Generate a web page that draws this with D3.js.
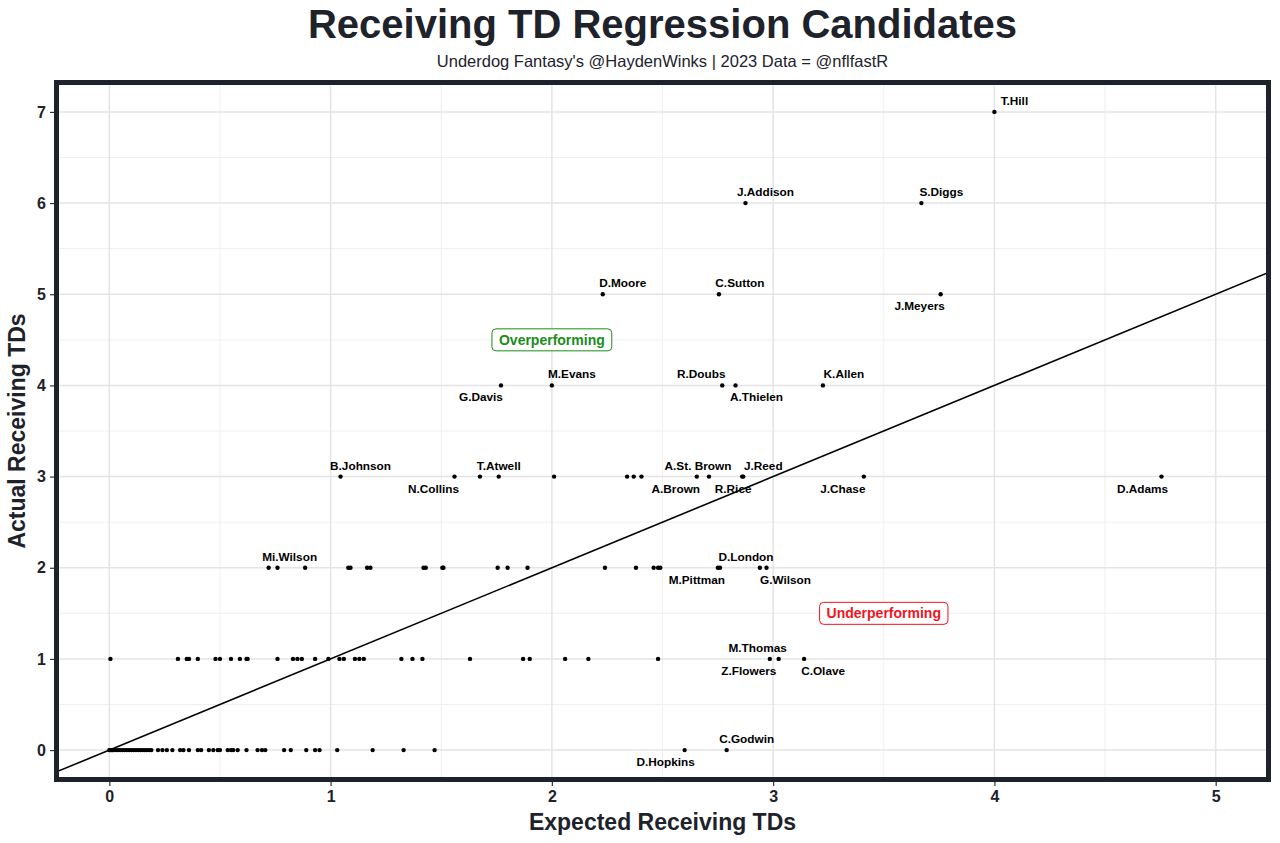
<!DOCTYPE html>
<html>
<head>
<meta charset="utf-8">
<script src="https://cdn.jsdelivr.net/npm/d3@7"></script>
<style>
  html, body { margin: 0; padding: 0; background: #ffffff; }
  svg { display: block; }
  text { font-family: "Liberation Sans", Arial, Helvetica, sans-serif; }
</style>
</head>
<body>
<svg id="chart" width="1280" height="843"></svg>
<script>
// ---------------- DATA ----------------
// labelled players
const labeledNames = [
  "D.Hopkins","C.Godwin",
  "Z.Flowers","M.Thomas","C.Olave",
  "Mi.Wilson","M.Pittman","D.London","G.Wilson",
  "B.Johnson","N.Collins","T.Atwell","A.Brown","A.St. Brown","R.Rice","J.Reed","J.Chase","D.Adams",
  "G.Davis","M.Evans","R.Doubs","A.Thielen","K.Allen",
  "D.Moore","C.Sutton","J.Meyers",
  "J.Addison","S.Diggs",
  "T.Hill"
];
const labeledExpected = [
  2.60, 2.79,
  2.985, 3.025, 3.14,
  0.72, 2.75, 2.76, 2.97,
  1.045, 1.56, 1.76, 2.655, 2.71, 2.86, 2.865, 3.41, 4.755,
  1.77, 2.00, 2.77, 2.83, 3.225,
  2.23, 2.755, 3.757,
  2.875, 3.67,
  4.00
];
const labeledActual = [
  0, 0,
  1, 1, 1,
  2, 2, 2, 2,
  3, 3, 3, 3, 3, 3, 3, 3, 3,
  4, 4, 4, 4, 4,
  5, 5, 5,
  6, 6,
  7
];
// unlabelled players
const otherExpected = [
  // actual = 0
  0.00,0.005,0.01,0.015,0.02,0.03,0.04,0.05,0.06,0.07,0.08,0.09,0.10,0.11,0.12,0.13,0.14,0.15,0.16,0.17,0.18,0.19,
  0.22,0.24,0.26,0.285,0.32,0.335,0.36,0.40,0.415,0.45,0.47,0.49,0.50,0.535,0.55,0.56,0.58,0.62,0.67,0.69,0.705,0.79,0.82,0.89,0.93,0.95,1.03,1.19,1.33,1.47,
  // actual = 1
  0.005,0.31,0.35,0.36,0.40,0.48,0.50,0.55,0.59,0.62,0.625,0.76,0.83,0.85,0.87,0.93,0.99,1.04,1.06,1.11,1.13,1.15,1.32,1.37,1.415,1.63,1.87,1.90,2.06,2.165,2.48,
  // actual = 2
  0.76,0.885,1.08,1.09,1.165,1.18,1.42,1.43,1.505,1.51,1.755,1.80,1.89,2.24,2.38,2.46,2.48,2.49,2.94,
  // actual = 3
  1.675,2.01,2.34,2.37,2.405
];
const otherActual = [
  0,0,0,0,0,0,0,0,0,0,0,0,0,0,0,0,0,0,0,0,0,0,
  0,0,0,0,0,0,0,0,0,0,0,0,0,0,0,0,0,0,0,0,0,0,0,0,0,0,0,0,0,0,
  1,1,1,1,1,1,1,1,1,1,1,1,1,1,1,1,1,1,1,1,1,1,1,1,1,1,1,1,1,1,1,
  2,2,2,2,2,2,2,2,2,2,2,2,2,2,2,2,2,2,2,
  3,3,3,3,3
];
const xTicks = [0, 1, 2, 3, 4, 5];
const yTicks = [0, 1, 2, 3, 4, 5, 6, 7];
const xMinor = [0.5, 1.5, 2.5, 3.5, 4.5];
const yMinor = [0.5, 1.5, 2.5, 3.5, 4.5, 5.5, 6.5];
const annotationTexts = ["Overperforming", "Underperforming"];
const annotationX = [2.0, 3.5];
const annotationY = [4.5, 1.5];
const annotationColors = ["#1a8c1a", "#f0141e"];

// label placement (layout only): horizontal offset in px and side
const labelPlacement = {
  "T.Hill": [20, "up"], "J.Addison": [20, "up"], "S.Diggs": [20, "up"],
  "D.Moore": [20, "up"], "C.Sutton": [21, "up"], "J.Meyers": [-21, "down"],
  "G.Davis": [-20, "down"], "M.Evans": [20, "up"], "R.Doubs": [-21, "up"],
  "A.Thielen": [21, "down"], "K.Allen": [21, "up"], "B.Johnson": [20, "up"],
  "N.Collins": [-21, "down"], "T.Atwell": [0, "up"], "A.St. Brown": [-11, "up"],
  "A.Brown": [-21, "down"], "R.Rice": [-9, "down"], "J.Reed": [20, "up"],
  "J.Chase": [-21, "down"], "D.Adams": [-19, "down"], "Mi.Wilson": [21, "up"],
  "D.London": [26, "up"], "M.Pittman": [-21, "down"], "G.Wilson": [19, "down"],
  "M.Thomas": [-21, "up"], "Z.Flowers": [-21, "down"], "C.Olave": [19, "down"],
  "D.Hopkins": [-19, "down"], "C.Godwin": [20, "up"]
};

// ---------------- CHART ----------------
const svg = d3.select("#chart");
const dark = "#1e222b";
const panel = { left: 54, right: 1271, top: 80, bottom: 782 };

const x = d3.scaleLinear().domain([-0.25, 5.25]).range([panel.left, panel.right]);
const y = d3.scaleLinear().domain([-0.35, 7.35]).range([panel.bottom, panel.top]);

svg.append("defs").append("clipPath").attr("id", "clip")
  .append("rect")
  .attr("x", panel.left).attr("y", panel.top)
  .attr("width", panel.right - panel.left).attr("height", panel.bottom - panel.top);

const g = svg.append("g");

// minor grid
g.selectAll(".xminor").data(xMinor).join("line")
  .attr("x1", d => x(d)).attr("x2", d => x(d))
  .attr("y1", panel.top).attr("y2", panel.bottom)
  .attr("stroke", "#ededed").attr("stroke-width", 0.9);
g.selectAll(".yminor").data(yMinor).join("line")
  .attr("y1", d => y(d)).attr("y2", d => y(d))
  .attr("x1", panel.left).attr("x2", panel.right)
  .attr("stroke", "#ededed").attr("stroke-width", 0.9);
// major grid
g.selectAll(".xmajor").data(xTicks).join("line")
  .attr("x1", d => x(d)).attr("x2", d => x(d))
  .attr("y1", panel.top).attr("y2", panel.bottom)
  .attr("stroke", "#e4e4e4").attr("stroke-width", 1.5);
g.selectAll(".ymajor").data(yTicks).join("line")
  .attr("y1", d => y(d)).attr("y2", d => y(d))
  .attr("x1", panel.left).attr("x2", panel.right)
  .attr("stroke", "#e4e4e4").attr("stroke-width", 1.5);

// y = x reference line
const dom = x.domain();
g.append("line")
  .attr("clip-path", "url(#clip)")
  .attr("x1", x(dom[0])).attr("y1", y(dom[0]))
  .attr("x2", x(dom[1])).attr("y2", y(dom[1]))
  .attr("stroke", "#000").attr("stroke-width", 1.6);

// points
const others = otherExpected.map((v, i) => ({ xv: v, yv: otherActual[i] }));
const labeled = labeledExpected.map((v, i) => ({ name: labeledNames[i], xv: v, yv: labeledActual[i] }));
g.selectAll(".pt").data(others.concat(labeled)).join("circle")
  .attr("cx", d => x(d.xv)).attr("cy", d => y(d.yv))
  .attr("r", 2.2).attr("fill", "#000");

// labels
g.selectAll(".lbl").data(labeled).join("text")
  .attr("x", d => x(d.xv) + labelPlacement[d.name][0])
  .attr("y", d => y(d.yv) + (labelPlacement[d.name][1] === "down" ? 16 : -7))
  .attr("text-anchor", "middle")
  .attr("font-size", "11.8px").attr("font-weight", "bold").attr("fill", "#000")
  .text(d => d.name);

// annotations
annotationTexts.forEach((t, i) => {
  const ag = g.append("g");
  const txt = ag.append("text")
    .attr("x", x(annotationX[i])).attr("y", y(annotationY[i]) + 5)
    .attr("text-anchor", "middle").attr("font-size", "14px").attr("font-weight", "bold")
    .attr("fill", annotationColors[i]).text(t);
  const bb = txt.node().getBBox();
  ag.insert("rect", "text")
    .attr("x", bb.x - 7).attr("y", y(annotationY[i]) - 11)
    .attr("width", bb.width + 14).attr("height", 22)
    .attr("rx", 4).attr("ry", 4)
    .attr("fill", "#fff").attr("stroke", annotationColors[i]).attr("stroke-width", 1);
});

// panel border (drawn inside)
svg.append("rect")
  .attr("x", panel.left + 2.5).attr("y", panel.top + 2.5)
  .attr("width", panel.right - panel.left - 5).attr("height", panel.bottom - panel.top - 5)
  .attr("fill", "none").attr("stroke", dark).attr("stroke-width", 5);

// axes
const xAxis = svg.append("g").attr("transform", `translate(0,${panel.bottom})`)
  .call(d3.axisBottom(x).tickValues(xTicks).tickSize(4).tickPadding(5).tickFormat(d3.format("d")));
const yAxis = svg.append("g").attr("transform", `translate(${panel.left},0)`)
  .call(d3.axisLeft(y).tickValues(yTicks).tickSize(4).tickPadding(4).tickFormat(d3.format("d")));
[xAxis, yAxis].forEach(a => {
  a.select(".domain").remove();
  a.selectAll(".tick line").attr("stroke", "#333").attr("stroke-width", 1.2);
  a.selectAll(".tick text")
    .attr("font-family", "'Liberation Sans', Arial, sans-serif")
    .attr("font-size", "16px").attr("font-weight", "bold").attr("fill", dark);
});

// titles
const cx = (panel.left + panel.right) / 2;
svg.append("text").attr("x", cx).attr("y", 38)
  .attr("text-anchor", "middle").attr("font-size", "40px").attr("font-weight", "bold")
  .attr("fill", dark).text("Receiving TD Regression Candidates");
svg.append("text").attr("x", cx).attr("y", 67)
  .attr("text-anchor", "middle").attr("font-size", "16.5px")
  .attr("fill", dark).text("Underdog Fantasy's @HaydenWinks | 2023 Data = @nflfastR");
svg.append("text").attr("x", cx).attr("y", 830)
  .attr("text-anchor", "middle").attr("font-size", "23px").attr("font-weight", "bold")
  .attr("fill", dark).text("Expected Receiving TDs");
svg.append("text")
  .attr("transform", `translate(25,${(panel.top + panel.bottom) / 2}) rotate(-90)`)
  .attr("text-anchor", "middle").attr("font-size", "23px").attr("font-weight", "bold")
  .attr("fill", dark).text("Actual Receiving TDs");
</script>
</body>
</html>
